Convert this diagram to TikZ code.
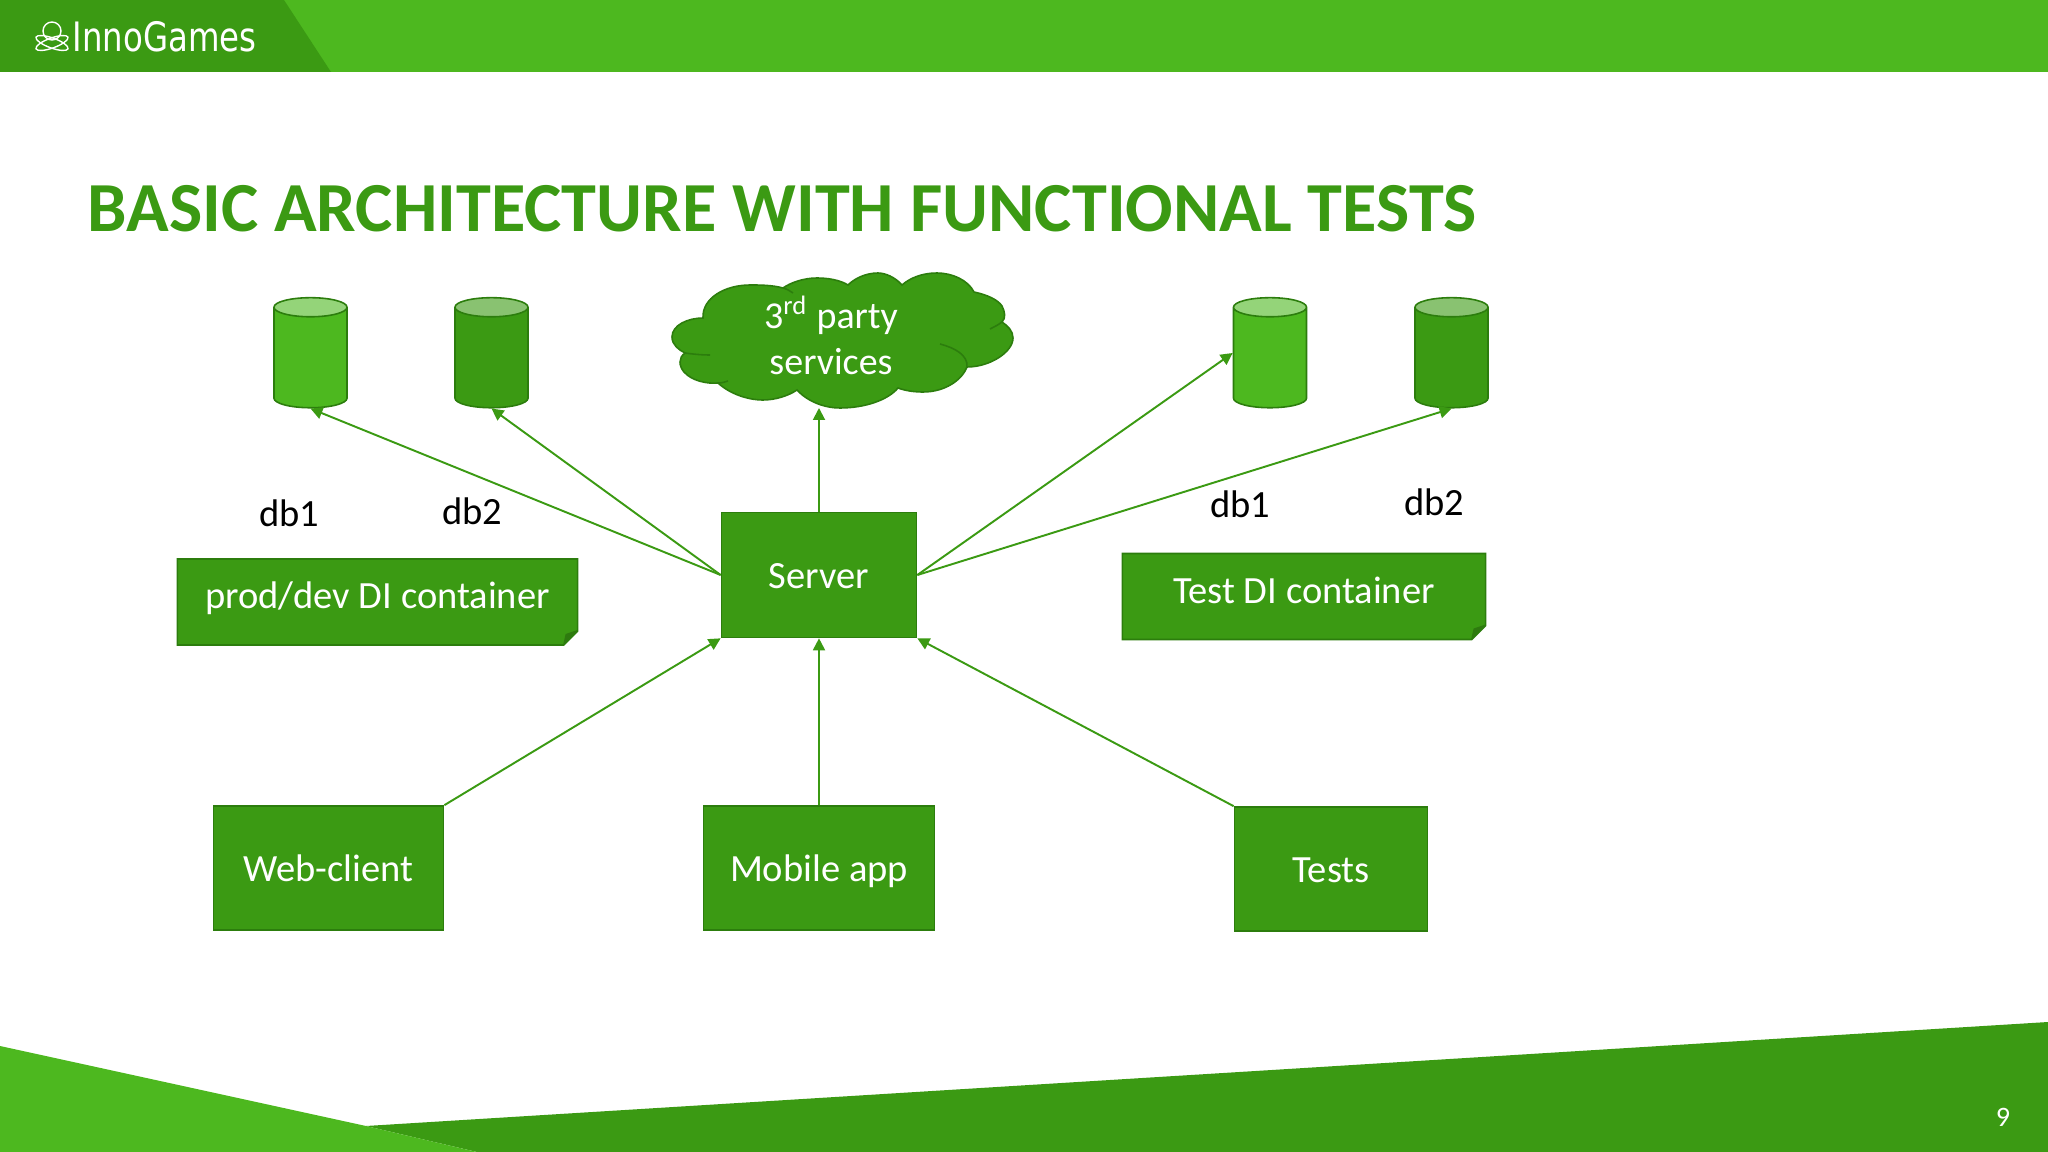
\documentclass[tikz,border=0pt]{standalone}
\usepackage{fontspec}
\setmainfont{Carlito}
\newfontfamily\logofont{DejaVu Sans}
\usetikzlibrary{shapes.geometric, shapes.misc, arrows.meta}
\definecolor{lightgreen}{HTML}{4DB81F}
\definecolor{darkgreen}{HTML}{3B9A13}
\definecolor{edgegreen}{HTML}{2C7D0D}
\definecolor{foldgreen}{HTML}{2E7A0F}
\tikzstyle{box} = [rectangle, minimum width=1.95cm, minimum height=1.25cm, text centered, draw=edgegreen, line width=0.45pt, fill=darkgreen, text=white, text height=0.9em, text depth=0.12em, font=\fontsize{10.95}{12}\selectfont]
\tikzstyle{note} = [chamfered rectangle, chamfered rectangle corners=south east, chamfered rectangle sep=0.07cm, minimum height=0.86cm, draw=edgegreen, line width=0.45pt, fill=darkgreen, text=white, text height=0.7em, text depth=0.32em, font=\fontsize{10.95}{12}\selectfont, path picture={\fill[foldgreen] ([xshift=-0.145cm]path picture bounding box.south east) -- ([yshift=0.15cm]path picture bounding box.south east) -- ([xshift=-0.12cm,yshift=0.11cm]path picture bounding box.south east) -- cycle;}]
\tikzstyle{db} = [cylinder, shape border rotate=90, shape aspect=0.53, minimum height=1.10cm, minimum width=0.73cm, inner sep=0.18cm, draw=edgegreen, line width=0.45pt, cylinder uses custom fill]
\tikzstyle{dblight} = [db, cylinder body fill=lightgreen, cylinder end fill=lightgreen!60!white]
\tikzstyle{dbdark} = [db, cylinder body fill=darkgreen, cylinder end fill=darkgreen!60!white]
\tikzstyle{dblabel} = [text=black, font=\fontsize{10.95}{12}\selectfont]
\tikzstyle{arrow} = [draw=darkgreen, line width=0.55pt, -{Triangle[length=3.4pt,width=3.4pt]}]
\begin{document}
\begin{tikzpicture}[x=0.01cm, y=-0.01cm]
\useasboundingbox (0,0) rectangle (2048,1152);

% Slide
\fill[lightgreen] (0,0) rectangle (2048,72);
\fill[darkgreen] (0,0) -- (284,0) -- (331,72) -- (0,72) -- cycle;
\fill[darkgreen] (366,1126) -- (2048,1022) -- (2048,1152) -- (477,1152) -- cycle;
\fill[lightgreen] (0,1046) -- (366,1126) -- (477,1152) -- (0,1152) -- cycle;

% Logo
\node (logotext) [anchor=west, inner sep=0pt, text=white, font=\logofont\fontsize{9.6}{11}\selectfont] at (72,37) {\scalebox{0.96}[1.2]{InnoGames}};
\draw[white, line width=0.4pt, rotate around={20:(52,43)}] (52,43) ellipse (17 and 5);
\draw[white, line width=0.4pt, rotate around={-20:(52,43)}] (52,43) ellipse (17 and 5);
\draw[white, line width=0.4pt] (52,31) circle (9);

% Title
\node (title) [anchor=west, inner sep=0pt, text=darkgreen, font=\bfseries\fontsize{20}{22}\selectfont] at (87,209) {BASIC ARCHITECTURE WITH FUNCTIONAL TESTS};

% Nodes
\node (server) [box] at (819,575) {Server};
\node (web) [box, minimum width=2.30cm, minimum height=1.24cm] at (328.5,868) {Web-client};
\node (mobile) [box, minimum width=2.31cm, minimum height=1.24cm] at (819,868) {Mobile app};
\node (tests) [box, minimum width=1.93cm, minimum height=1.24cm] at (1331,869) {Tests};
\node (proddi) [note, minimum width=4.00cm] at (377.5,602) {prod/dev DI container};
\node (testdi) [note, minimum width=3.63cm] at (1304,596.5) {Test DI container};

\node (dba) [dblight] at (310.5,362) {};
\node (dbb) [dbdark] at (491.5,362) {};
\node (dbc) [dblight] at (1270,362) {};
\node (dbd) [dbdark] at (1451.5,362) {};

\node (dbalabel) [dblabel] at (289,513) {db1};
\node (dbblabel) [dblabel] at (472,511) {db2};
\node (dbclabel) [dblabel] at (1240,504) {db1};
\node (dbdlabel) [dblabel] at (1434,502) {db2};

% Cloud
\draw[fill=darkgreen, draw=edgegreen, line width=0.45pt]
  (703,318) .. controls (688,318) and (672,325) .. (672,337)
  .. controls (672,345) and (679,350) .. (685,353)
  .. controls (678,358) and (679,366) .. (684,372)
  .. controls (692,381) and (707,384) .. (718,383)
  .. controls (730,394) and (748,400) .. (763,400)
  .. controls (775,400) and (788,396) .. (797,390)
  .. controls (808,402) and (825,408) .. (840,408)
  .. controls (865,408) and (888,400) .. (898,388)
  .. controls (906,391) and (915,392) .. (923,392)
  .. controls (945,392) and (962,380) .. (967,367)
  .. controls (990,367) and (1013,352) .. (1013,338)
  .. controls (1013,331) and (1008,326) .. (1002,322)
  .. controls (1006,318) and (1005,312) .. (1002,306)
  .. controls (998,300) and (988,295) .. (974,292)
  .. controls (968,280) and (952,273) .. (937,273)
  .. controls (922,273) and (910,278) .. (902,285)
  .. controls (895,277) and (885,273) .. (878,273)
  .. controls (865,273) and (854,279) .. (848,285)
  .. controls (840,280) and (828,278) .. (817,278)
  .. controls (803,278) and (790,283) .. (783,288)
  .. controls (772,285) and (760,285) .. (750,285)
  .. controls (725,285) and (702,298) .. (703,318) -- cycle;
\draw[draw=edgegreen, line width=0.45pt] (685,353) .. controls (692,354) and (701,355) .. (710,355);
\draw[draw=edgegreen, line width=0.45pt] (718,383) .. controls (722,383) and (725,382) .. (728,381);
\draw[draw=edgegreen, line width=0.45pt] (967,367) .. controls (968,355) and (955,348) .. (940,344);
\draw[draw=edgegreen, line width=0.45pt] (1002,322) .. controls (998,325) and (994,327) .. (990,329);
\draw[draw=edgegreen, line width=0.45pt] (783,288) .. controls (787,289) and (790,291) .. (793,293);
\node (cloudtext) [align=center, text=white, inner sep=0pt, font=\fontsize{10.8}{13.1}\selectfont] at (831,335) {3\textsuperscript{rd} party\\services};
\coordinate (cloudtip) at (819,408);

% Arrows
\draw [arrow] (server.west) -- (dba.south);
\draw [arrow] (server.west) -- (dbb.south);
\draw [arrow] (server.north) -- (cloudtip);
\draw [arrow] (server.east) -- ([yshift=0.09cm]dbc.west);
\draw [arrow] (server.east) -- (dbd.south);
\draw [arrow] (web.north east) -- (server.south west);
\draw [arrow] (mobile.north) -- (server.south);
\draw [arrow] (tests.north west) -- (server.south east);

% Page number
\node (page) [text=white, font=\fontsize{8}{10}\selectfont] at (2003,1117) {9};

\end{tikzpicture}
\end{document}
